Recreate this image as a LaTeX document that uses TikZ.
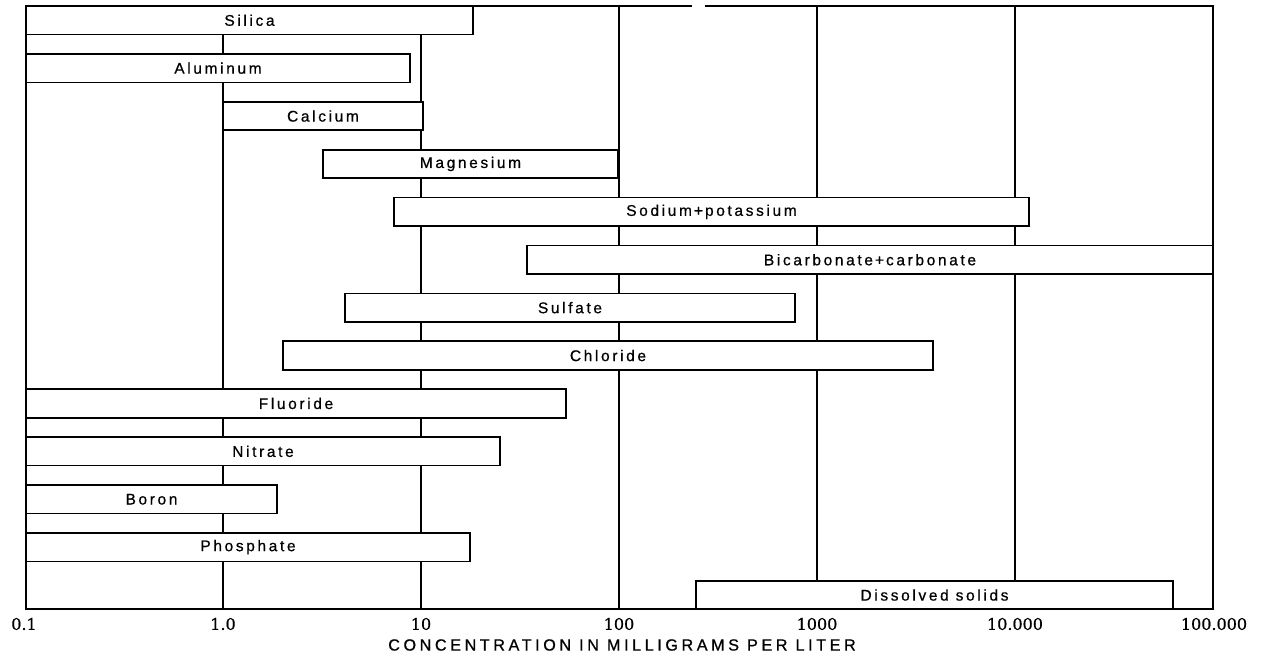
\documentclass[tikz,border=0pt]{standalone}
\usepackage{fontspec}
\setmainfont{Liberation Sans}
\newfontfamily\barfont[LetterSpace=17,FakeBold=0.6]{Liberation Sans}
\newfontfamily\tickfont[FakeBold=0.8]{DejaVu Serif}
\newfontfamily\titlefont[LetterSpace=22,FakeBold=0.8]{Liberation Sans}
\begin{document}
\begin{tikzpicture}[x=1pt,y=-1pt,
  bar/.style={draw=black, fill=white, line width=1.7pt, rectangle, inner sep=0pt,
    outer sep=0pt, minimum height=28.5pt, anchor=north west,
    font=\barfont\fontsize{15.5}{17}\selectfont},
  gridline/.style={line width=1.2pt},
  frameline/.style={line width=2.1pt},
  ticklabel/.style={font=\tickfont\fontsize{16}{18}\selectfont, inner sep=0pt},
  axistitle/.style={font=\titlefont\fontsize{16.2}{18}\selectfont, inner sep=0pt},
]
\useasboundingbox[fill=white] (0,0) rectangle (1264,656);

% decade coordinates
\coordinate (d0t) at (26,6);    \coordinate (d0b) at (26,609);
\coordinate (d1t) at (223,6);   \coordinate (d1b) at (223,609);
\coordinate (d2t) at (421,6);   \coordinate (d2b) at (421,609);
\coordinate (d3t) at (619,6);   \coordinate (d3b) at (619,609);
\coordinate (d4t) at (817,6);   \coordinate (d4b) at (817,609);
\coordinate (d5t) at (1015,6);  \coordinate (d5b) at (1015,609);
\coordinate (d6t) at (1213,6);  \coordinate (d6b) at (1213,609);
\coordinate (gapl) at (692,6);  \coordinate (gapr) at (705,6);

% grid lines
\foreach \i in {1,...,5} \draw[gridline] (d\i t) -- (d\i b);

% bars
\node[bar, minimum width=447pt] (silica)   at (26,6)      {Silica};
\node[bar, minimum width=384pt] (alum)     at (26,53.9)   {Aluminum};
\node[bar, minimum width=200pt] (calcium)  at (223,101.8) {Calcium};
\node[bar, minimum width=295pt] (magn)     at (323,149.7) {Magnesium};
\node[bar, minimum width=635pt] (sodium)   at (394,197.6) {Sodium\kern2pt+\kern2pt potassium};
\node[bar, minimum width=686pt] (bicarb)   at (527,245.5) {Bicarbonate\kern2pt+\kern2pt carbonate};
\node[bar, minimum width=450pt] (sulfate)  at (345,293.4) {Sulfate};
\node[bar, minimum width=650pt] (chloride) at (283,341.3) {Chloride};
\node[bar, minimum width=540pt] (fluoride) at (26,389.2)  {Fluoride};
\node[bar, minimum width=474pt] (nitrate)  at (26,437.1)  {Nitrate};
\node[bar, minimum width=251pt] (boron)    at (26,485)    {Boron};
\node[bar, minimum width=444pt] (phosph)   at (26,532.9)  {Phosphate};
\node[bar, minimum width=477pt] (dissolved) at (696,580.8) {Dissolved solids};

% frame
\draw[frameline] (gapl) -- (d0t) -- (d0b) -- (d6b) -- (d6t) -- (gapr);

% tick labels
\node[ticklabel] (t0) at (24,624)   {0.1};
\node[ticklabel] (t1) at (223,624)  {1.0};
\node[ticklabel] (t2) at (421,624)  {10};
\node[ticklabel] (t3) at (619,624)  {100};
\node[ticklabel] (t4) at (817,624)  {1000};
\node[ticklabel] (t5) at (1015,624) {10.000};
\node[ticklabel] (t6) at (1214,624) {100.000};

\node[axistitle] (title) at (622,645) {CONCENTRATION IN MILLIGRAMS PER LITER};
\end{tikzpicture}
\end{document}
